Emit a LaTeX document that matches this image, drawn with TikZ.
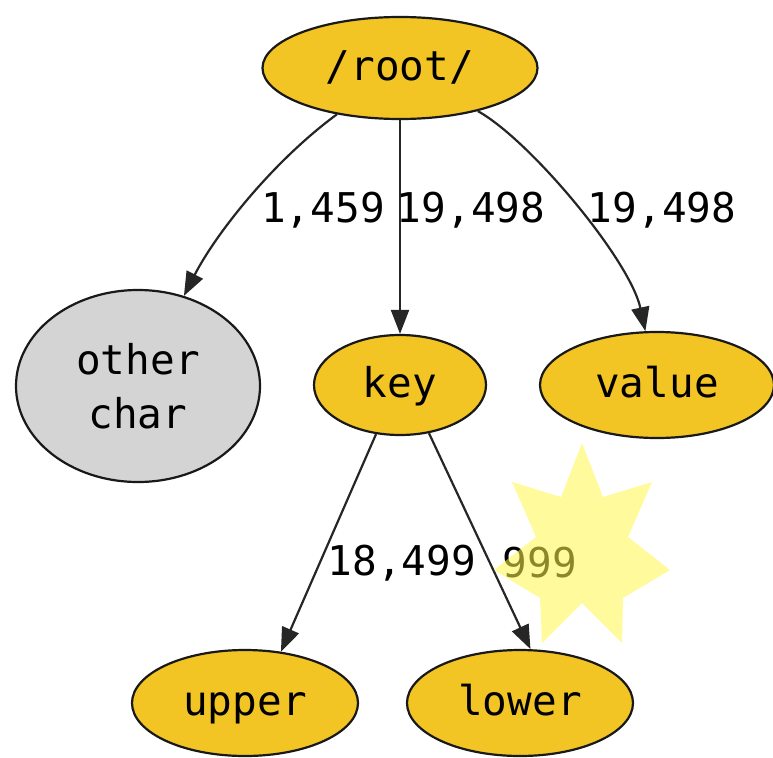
\documentclass[tikz,border=0pt]{standalone}
\usepackage{fontspec}
\setmonofont{DejaVu Sans Mono}
\usetikzlibrary{shapes.geometric,arrows.meta}
\definecolor{gold}{RGB}{242,196,36}
\definecolor{greyfill}{RGB}{212,212,212}
\definecolor{starfill}{RGB}{255,246,73}
\begin{document}
\begin{tikzpicture}[x=1pt,y=-1pt,
  every node/.style={font=\ttfamily\fontsize{41}{54}\selectfont},
  nd/.style={ellipse,draw=black!90,line width=2.2pt,fill=gold,inner sep=0pt},
  one/.style={text height=33pt,text depth=8pt},
  ed/.style={draw=black!85,line width=2.2pt,-{Triangle[length=24pt,width=18pt]}},
  lbl/.style={inner sep=0pt}]
\useasboundingbox (0,0) rectangle (773,757);
% nodes
\node[nd,one,minimum width=275pt,minimum height=102pt] (root) at (400,68) {/root/};
\node[nd,fill=greyfill,minimum width=244pt,minimum height=192pt,align=center] (other) at (138,386) {other\\char};
\node[nd,one,minimum width=172pt,minimum height=100pt] (key) at (400,385) {key};
\node[nd,one,minimum width=234pt,minimum height=106pt] (value) at (657,385) {value};
\node[nd,one,minimum width=226pt,minimum height=106pt] (upper) at (245,703) {upper};
\node[nd,one,minimum width=226pt,minimum height=106pt] (lower) at (520,703) {lower};
% edges
\draw[ed] (root) .. controls (272,162) and (215,235) .. (other);
\draw[ed] (root) -- (key);
\draw[ed] (root) .. controls (530,140) and (630,260) .. (value);
\draw[ed] (key.244.7) -- (upper.55.4);
\draw[ed] (key.301) -- (lower.79.7);
% labels
\node[lbl] (l1) at (323,210) {1,459};
\node[lbl] (l2) at (471,210) {19,498};
\node[lbl] (l3) at (662,210) {19,498};
\node[lbl] (l4) at (402,563) {18,499};
\node[lbl] (l5) at (540,563) {999};
% star
\fill[starfill,fill opacity=0.55] (582,443) -- (603,497) -- (652,482) -- (628,537) -- (670,570) -- (623,598) -- (622,643) -- (582,603) -- (542,643) -- (540,598) -- (494,570) -- (536,537) -- (512,482) -- (561,497) -- cycle;
\end{tikzpicture}
\end{document}
